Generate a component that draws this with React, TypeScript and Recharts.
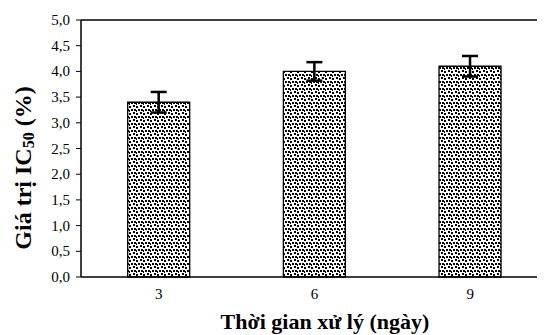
import React from 'react';
import { BarChart, Bar, XAxis, YAxis, ErrorBar, ReferenceLine, Label } from 'recharts';

const days = ['3', '6', '9'];
const ic50 = [3.4, 4.0, 4.1];
const ic50Err = [0.2, 0.18, 0.2];
const yTicks = [0, 0.5, 1, 1.5, 2, 2.5, 3, 3.5, 4, 4.5, 5];

const data = days.map((d, i) => ({ day: d, value: ic50[i], err: ic50Err[i] }));

const FONT = '"Liberation Serif", "Times New Roman", serif';

const fmt = (v: number) => v.toFixed(1).replace('.', ',');

function YTick(props: any) {
  const { x, y, payload } = props;
  return (
    <text x={x - 2} y={y} textAnchor="end" dominantBaseline="central" fontFamily={FONT} fontSize={15} fill="#000">
      {fmt(payload.value)}
    </text>
  );
}

function XTick(props: any) {
  const { x, y, payload } = props;
  return (
    <text x={x} y={y + 14} textAnchor="middle" fontFamily={FONT} fontSize={15} fill="#000">
      {payload.value}
    </text>
  );
}

function YTitle() {
  const cx = 23;
  const cy = 168;
  return (
    <text
      x={cx}
      y={cy}
      transform={`rotate(-90 ${cx} ${cy})`}
      textAnchor="middle"
      dominantBaseline="central"
      fontFamily={FONT}
      fontWeight="bold"
      fontSize={24}
      fill="#000"
    >
      Giá trị IC<tspan fontSize={16} dy={5}>50</tspan>
      <tspan dy={-5}> (%)</tspan>
    </text>
  );
}

function XTitle() {
  return (
    <text x={325} y={329} textAnchor="middle" fontFamily={FONT} fontWeight="bold" fontSize={22} fill="#000">
      Thời gian xử lý (ngày)
    </text>
  );
}

export default function App() {
  return (
    <div style={{ margin: '-8px 0 0 -8px', width: 545, height: 335, overflow: 'hidden', background: '#fff' }}>
      <BarChart
        width={550}
        height={335}
        data={data}
        margin={{ top: 20, right: 2, left: 0, bottom: 0 }}
        barCategoryGap="30%"
      >
        <defs>
          <pattern id="speckle" width="7" height="7" patternUnits="userSpaceOnUse">
            <rect width="7" height="7" fill="#fff" />
            <rect x="0" y="0" width="2" height="2" fill="#000" />
            <rect x="3" y="1" width="2" height="2" fill="#000" />
            <rect x="5" y="4" width="2" height="2" fill="#000" />
            <rect x="1" y="4" width="2" height="2" fill="#000" />
            <rect x="3" y="5" width="1" height="2" fill="#000" />
          </pattern>
        </defs>
        <XAxis
          dataKey="day"
          height={58}
          tickLine={false}
          axisLine={{ stroke: '#000', strokeWidth: 1.5 }}
          tick={<XTick />}
        >
          <Label content={<XTitle />} />
        </XAxis>
        <YAxis
          width={81}
          domain={[0, 5]}
          ticks={yTicks}
          interval={0}
          tickSize={5}
          tickMargin={4}
          axisLine={{ stroke: '#000', strokeWidth: 1.5 }}
          tickLine={{ stroke: '#000' }}
          tick={<YTick />}
        >
          <Label content={<YTitle />} />
        </YAxis>
        <ReferenceLine y={5} stroke="#000" strokeWidth={1.5} />
        <Bar dataKey="value" fill="url(#speckle)" stroke="#000" strokeWidth={1.3} isAnimationActive={false}>
          <ErrorBar dataKey="err" direction="y" width={8} stroke="#000" strokeWidth={2.5} />
        </Bar>
      </BarChart>
    </div>
  );
}
